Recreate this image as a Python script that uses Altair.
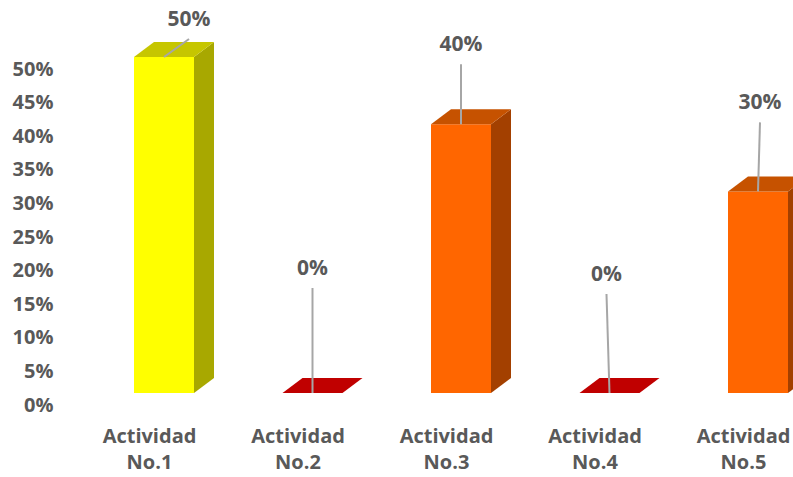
import altair as alt
import pandas as pd

# ---- data ----
cat_line1 = ["Actividad", "Actividad", "Actividad", "Actividad", "Actividad"]
cat_line2 = ["No.1", "No.2", "No.3", "No.4", "No.5"]
values = [0.50, 0.00, 0.40, 0.00, 0.30]
label_text = ["50%", "0%", "40%", "0%", "30%"]
y_ticks = [0, 0.05, 0.1, 0.15, 0.2, 0.25, 0.3, 0.35, 0.4, 0.45, 0.5]

# ---- styles / layout ----
front_colors = ["#FFFF00", "#C00000", "#FF6600", "#C00000", "#FF6600"]
side_colors = ["#A8A800", "#900000", "#A34000", "#900000", "#A34000"]
top_colors = ["#C6C600", "#C00000", "#C65200", "#C00000", "#C65200"]
label_dx_px = [25, 0, 0, -3, 2]        # label shift from bar centre
label_lift_px = [37, 124, 79, 118, 88]  # label height above bar top

W, H = 703, 393
PAD_L = 90
PX_X = 148.5          # pixels per category step
PX_Y = 672.0          # pixels per 100 %
FIRST_CENTER_PX = 164 - PAD_L
x_min = 1 - FIRST_CENTER_PX / PX_X
x_max = x_min + W / PX_X
y_max = H / PX_Y

BW = 60 / PX_X
DX = 20 / PX_X
DY = 15 / PX_Y
GAP = 19 / PX_Y

n = len(values)
idx = list(range(1, n + 1))

front = pd.DataFrame({
    "x": [i - BW / 2 for i in idx],
    "x2": [i + BW / 2 for i in idx],
    "y": [0.0] * n,
    "y2": values,
    "c": front_colors,
})

side_rows, top_rows = [], []
for i, v, sc, tc in zip(idx, values, side_colors, top_colors):
    side_rows.append({"k": i, "x": i + BW / 2, "lo": 0.0, "hi": v, "c": sc})
    side_rows.append({"k": i, "x": i + BW / 2 + DX, "lo": DY, "hi": v + DY, "c": sc})
    top_rows.append({"k": i, "y": v, "xl": i - BW / 2, "xr": i + BW / 2, "c": tc})
    top_rows.append({"k": i, "y": v + DY, "xl": i - BW / 2 + DX, "xr": i + BW / 2 + DX, "c": tc})
side = pd.DataFrame(side_rows)
top = pd.DataFrame(top_rows)

labels = pd.DataFrame({
    "x": [i + d / PX_X for i, d in zip(idx, label_dx_px)],
    "y": [v + l / PX_Y for v, l in zip(values, label_lift_px)],
    "t": label_text,
})
leaders = pd.DataFrame({
    "x": labels["x"],
    "y": labels["y"] - GAP,
    "x2": idx,
    "y2": values,
})

xs = alt.Scale(domain=[x_min, x_max], nice=False, zero=False)
ys = alt.Scale(domain=[0, y_max], nice=False, zero=False)

label_arr = "[" + ",".join(f"['{a}','{b}']" for a, b in zip(cat_line1, cat_line2)) + "]"

x_axis = alt.Axis(
    values=idx, labelExpr=f"{label_arr}[datum.value - 1]", title=None,
    labelFont="Open Sans", labelFontSize=20, labelFontWeight="bold",
    labelColor="#595959", labelOffset=-15, labelPadding=33, labelLineHeight=26,
    labelBaseline="top", labelFlush=False, labelOverlap=False, labelBound=False,
    ticks=False, domain=False, grid=False,
)
y_axis = alt.Axis(
    values=y_ticks, format=".0%",
    title=None, labelFont="Open Sans", labelFontSize=20, labelFontWeight="bold",
    labelColor="#595959", labelOffset=12, labelPadding=37, ticks=False, domain=False,
    grid=False, labelBaseline="middle", labelOverlap=False, labelFlush=False,
    labelBound=False,
)

def X(field):
    return alt.X(field, scale=xs, axis=x_axis)

def Y(field):
    return alt.Y(field, scale=ys, axis=y_axis)

front_l = alt.Chart(front).mark_rect().encode(
    x=X("x:Q"), x2="x2:Q", y=Y("y:Q"), y2="y2:Q",
    color=alt.Color("c:N", scale=None),
)
side_l = alt.Chart(side).mark_area(orient="vertical", interpolate="linear").encode(
    x=X("x:Q"), y=Y("hi:Q"), y2="lo:Q",
    detail="k:N", color=alt.Color("c:N", scale=None),
)
top_l = alt.Chart(top).mark_area(orient="horizontal", interpolate="linear").encode(
    y=Y("y:Q"), x=X("xl:Q"), x2="xr:Q",
    detail="k:N", color=alt.Color("c:N", scale=None),
)
lead_l = alt.Chart(leaders).mark_rule(color="#A6A6A6", strokeWidth=2).encode(
    x=X("x:Q"), y=Y("y:Q"), x2="x2:Q", y2="y2:Q",
)
text_l = alt.Chart(labels).mark_text(
    font="Open Sans", fontSize=21, fontWeight="bold", color="#595959",
    baseline="middle", align="center",
).encode(x=X("x:Q"), y=Y("y:Q"), text="t:N")

chart = alt.layer(front_l, side_l, top_l, lead_l, text_l).properties(
    width=W, height=H,
    background="white",
    autosize=alt.AutoSizeParams(type="none"),
    padding={"left": PAD_L, "top": 0, "right": 0, "bottom": 477 - H},
).configure_view(stroke=None).configure_axis(labelOverlap=False)

chart.save("out.html", embed_options={"renderer": "svg", "actions": False})
